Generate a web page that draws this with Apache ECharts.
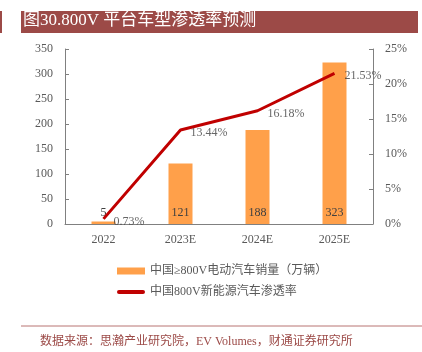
<!DOCTYPE html>
<html><head><meta charset="utf-8">
<script src="https://cdn.jsdelivr.net/npm/echarts@6/dist/echarts.min.js"></script>
<style>html,body{margin:0;padding:0;background:#fff}#c{width:422px;height:352px}</style>
</head><body><div id="c"></div>
<script>
var categories = ['2022', '2023E', '2024E', '2025E'];
var salesValues = [5, 121, 188, 323];
var penetrationValues = [0.73, 13.44, 16.18, 21.53];
var leftTicks = [0, 50, 100, 150, 200, 250, 300, 350];
var rightTicks = [0, 5, 10, 15, 20, 25];
var seriesNames = ['中国≥800V电动汽车销量（万辆）', '中国800V新能源汽车渗透率'];
var titleText = '图30.800V 平台车型渗透率预测';
var sourceText = '数据来源：思瀚产业研究院，EV Volumes，财通证券研究所';

var FONT = "'Liberation Serif','Noto Sans CJK SC',serif";
var chart = echarts.init(document.getElementById('c'), null, {renderer: 'canvas'});
chart.setOption({
  animation: false,
  backgroundColor: '#fff',
  textStyle: {fontFamily: FONT},
  grid: {left: 65, right: 49, top: 49, bottom: 128},
  legend: {
    orient: 'vertical', left: 112, top: 260, itemWidth: 28, itemHeight: 7, itemGap: 9,
    textStyle: {fontFamily: FONT, fontSize: 12, color: '#595959'},
    data: [{name: seriesNames[0], icon: 'rect'},
           {name: seriesNames[1], icon: 'path://M2,0 L26,0 A2,2 0 0 1 26,4 L2,4 A2,2 0 0 1 2,0 Z'}]
  },
  graphic: [
    {type: 'rect', shape: {x: 0, y: 11, width: 2, height: 22}, style: {fill: '#9C4A47'}},
    {type: 'rect', shape: {x: 21, y: 11, width: 397, height: 22}, style: {fill: '#9C4A47'}},
    {type: 'text', left: 23, top: 12, style: {text: titleText, fill: '#fff', font: "17px " + FONT}},
    {type: 'line', shape: {x1: 21, y1: 326, x2: 422, y2: 326}, style: {stroke: '#B87573', lineWidth: 1}},
    {type: 'text', left: 40, top: 336, style: {text: sourceText, fill: '#9C4A47', font: "12px " + FONT}}
  ],
  xAxis: {
    type: 'category', data: categories,
    axisLine: {lineStyle: {color: '#808080'}},
    axisTick: {inside: true, length: 4, lineStyle: {color: '#808080'}},
    axisLabel: {color: '#595959', fontSize: 12, margin: 10, fontFamily: FONT}
  },
  yAxis: [
    {type: 'value', min: 0, max: 350, interval: 50, splitLine: {show: false},
     axisLine: {show: true, lineStyle: {color: '#808080'}},
     axisTick: {show: true, inside: true, length: 4, lineStyle: {color: '#808080'}},
     axisLabel: {color: '#595959', fontSize: 12, margin: 12, fontFamily: FONT,
       formatter: function (v) { return leftTicks.indexOf(v) >= 0 ? String(v) : ''; }}},
    {type: 'value', min: 0, max: 25, interval: 5, splitLine: {show: false},
     axisLine: {show: true, lineStyle: {color: '#808080'}},
     axisTick: {show: true, inside: true, length: 4, lineStyle: {color: '#808080'}},
     axisLabel: {color: '#595959', fontSize: 12, margin: 12, fontFamily: FONT,
       formatter: function (v) { return rightTicks.indexOf(v) >= 0 ? v + '%' : ''; }}}
  ],
  series: [
    {name: seriesNames[0], type: 'bar', data: salesValues, barWidth: 24, yAxisIndex: 0,
     itemStyle: {color: '#FFA04A'},
     label: {show: true, position: 'insideBottom', distance: 5, color: '#404040', fontSize: 12, fontFamily: FONT}},
    {name: seriesNames[1], type: 'line', data: penetrationValues, yAxisIndex: 1, z: 3,
     symbol: 'none', lineStyle: {color: '#C00000', width: 3}, itemStyle: {color: '#C00000'}},
    {name: 'labels', type: 'scatter', data: penetrationValues, yAxisIndex: 1, symbolSize: 0, silent: true, z: 5,
     label: {show: true, position: 'right', distance: 10, offset: [0, 3], color: '#404040', fontSize: 12, fontFamily: FONT,
       formatter: function (p) { return p.value.toFixed(2) + '%'; }}}
  ]
});
</script></body></html>
